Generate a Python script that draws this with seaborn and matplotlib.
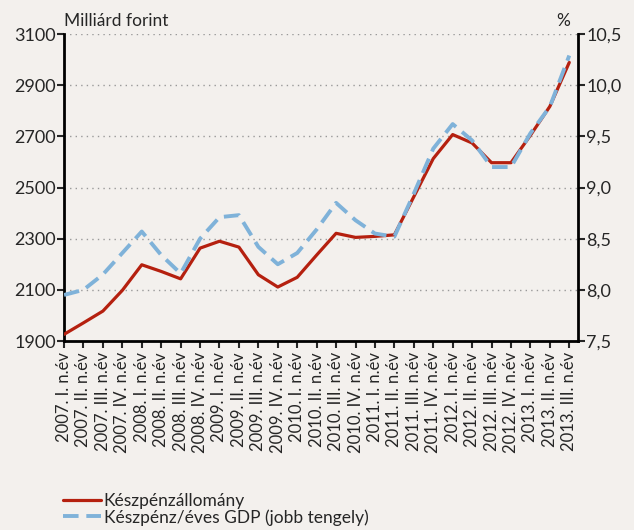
import numpy as np
import pandas as pd
import seaborn as sns
import matplotlib.pyplot as plt

# quarters 2007 Q1 .. 2013 Q3
periods = ["2007. I. n.év", "2007. II. n.év", "2007. III. n.év", "2007. IV. n.év",
           "2008. I. n.év", "2008. II. n.év", "2008. III. n.év", "2008. IV. n.év",
           "2009. I. n.év", "2009. II. n.év", "2009. III. n.év", "2009. IV. n.év",
           "2010. I. n.év", "2010. II. n.év", "2010. III. n.év", "2010. IV. n.év",
           "2011. I. n.év", "2011. II. n.év", "2011. III. n.év", "2011. IV. n.év",
           "2012. I. n.év", "2012. II. n.év", "2012. III. n.év", "2012. IV. n.év",
           "2013. I. n.év", "2013. II. n.év", "2013. III. n.év"]

# cash stock, billion HUF (left axis)
cash_stock = [1926, 1971, 2017, 2098, 2198, 2172, 2143, 2263, 2290, 2267,
              2159, 2111, 2149, 2236, 2321, 2305, 2309, 2315, 2464, 2613,
              2707, 2674, 2597, 2597, 2704, 2817, 2989]

# cash / annual GDP, % (right axis)
cash_gdp = [7.95, 8.00, 8.15, 8.36, 8.57, 8.34, 8.16, 8.50, 8.71, 8.73,
            8.42, 8.25, 8.36, 8.59, 8.85, 8.68, 8.55, 8.52, 8.94, 9.38,
            9.62, 9.46, 9.20, 9.20, 9.53, 9.79, 10.29]

df = pd.DataFrame({"x": np.arange(len(periods)), "stock": cash_stock, "gdp": cash_gdp})

bg = "#f3f0ed"
red = "#b5200f"
blue = "#7fb2d9"

sns.set_style("white")
plt.rcParams["font.family"] = ["Lato", "DejaVu Sans"]

fig = plt.figure(figsize=(6.34, 5.30), dpi=100, facecolor=bg)
ax = fig.add_axes([0.101, 0.3566, 0.8107, 0.5792])
ax.set_facecolor(bg)
ax2 = ax.twinx()

sns.lineplot(data=df, x="x", y="stock", ax=ax, color=red, linewidth=2.3,
             label="Készpénzállomány", legend=False, zorder=3)
sns.lineplot(data=df, x="x", y="gdp", ax=ax2, color=blue, linewidth=2.8,
             dashes=False, label="Készpénz/éves GDP (jobb tengely)", legend=False, zorder=2)
ax2.lines[0].set_dashes([4, 2])

ax.set_xlim(0, 26.45)
ax.set_ylim(1900, 3100)
ax2.set_ylim(7.5, 10.5)
ax.set_yticks(range(1900, 3101, 200))
ax2.set_yticks(np.arange(7.5, 10.51, 0.5))
ax2.set_yticklabels([f"{v:.1f}".replace(".", ",") for v in np.arange(7.5, 10.51, 0.5)])
ax.set_xticks(df["x"])
ax.set_xticklabels(periods, rotation=90, fontsize=12)

ax.set_xlabel("")
ax.set_ylabel("")
ax2.set_ylabel("")

ax.yaxis.grid(True, linestyle=(0, (1, 3)), color="#999999", linewidth=1)
ax.set_axisbelow(True)

for a in (ax, ax2):
    a.spines["top"].set_visible(False)
    for s in ("left", "right", "bottom"):
        a.spines[s].set_color("black")
        a.spines[s].set_linewidth(2)
ax.spines["right"].set_visible(False)
ax2.spines["left"].set_visible(False)
ax2.spines["bottom"].set_visible(False)

ax.tick_params(axis="y", direction="out", length=5, width=1.5, labelsize=13, pad=1, left=True)
ax.tick_params(axis="x", direction="out", length=5, width=1.5, pad=3, bottom=True)
ax2.tick_params(axis="y", direction="out", length=5, width=1.5, labelsize=13, pad=1, right=True)

ax.text(0, 1.015, "Milliárd forint", transform=ax.transAxes, fontsize=12.5,
        ha="left", va="bottom")
ax2.text(0.985, 1.015, "%", transform=ax2.transAxes, fontsize=12.5,
         ha="right", va="bottom")

handles = ax.lines[:1] + ax2.lines[:1]
labels = ["Készpénzállomány", "Készpénz/éves GDP (jobb tengely)"]
leg = fig.legend(handles, labels, loc="upper left", bbox_to_anchor=(0.088, 0.083),
                 frameon=False, fontsize=12.5, handlelength=2.2, handletextpad=0.15,
                 labelspacing=0.0, borderaxespad=0)

fig.savefig("out.png", dpi=100, facecolor=bg)
